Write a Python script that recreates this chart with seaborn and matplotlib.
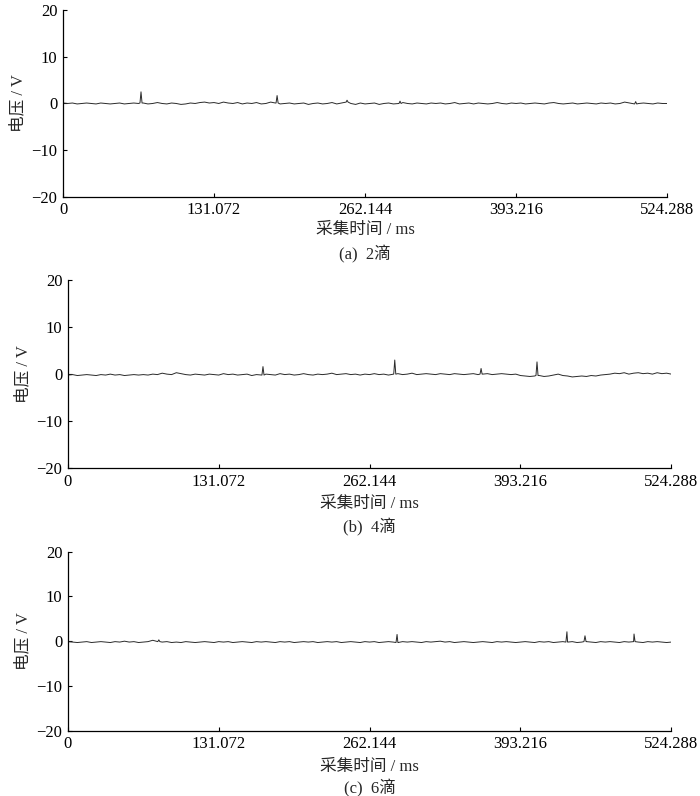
import matplotlib
matplotlib.use("Agg")
import matplotlib.pyplot as plt
import seaborn as sns
import numpy as np
import pandas as pd

# sample clock of the stored trace (ms)
dt = 4.096
n_samples = 129

xticks = [0, 131.072, 262.144, 393.216, 524.288]
xtick_labels = ["0", "131.072", "262.144", "393.216", "524.288"]
yticks = [-20, -10, 0, 10, 20]
captions = ["(a)  2滴", "(b)  4滴", "(c)  6滴"]

# baseline voltage (V)
a_base = [
    0.1, 0.0, 0.1, -0.1, 0.0, 0.1, 0.0, -0.1, 0.1, 0.0, -0.1, 0.0, 0.1, -0.1, 0.0, 0.1,
    0.0, 0.1, -0.1, 0.0, 0.2, 0.0, -0.1, 0.1, 0.0, -0.2, -0.1, 0.1, 0.0, 0.2, 0.3, 0.1,
    0.2, 0.0, 0.3, 0.1, 0.0, 0.2, -0.1, 0.1, 0.0, 0.2, -0.1, 0.0, 0.3, 0.1, -0.1, 0.0,
    0.1, -0.1, 0.0, 0.1, -0.2, 0.0, 0.1, -0.1, 0.0, 0.2, -0.1, 0.1, 0.3, 0.0, -0.2, 0.1,
    -0.1, 0.0, 0.1, -0.2, 0.0, 0.1, -0.1, 0.0, 0.2, 0.0, -0.1, 0.1, 0.0, -0.1, 0.1, 0.0,
    0.1, -0.1, 0.0, 0.2, -0.1, 0.0, 0.1, -0.1, 0.1, 0.0, -0.1, 0.0, 0.2, 0.0, -0.1, 0.1,
    0.0, 0.1, -0.1, 0.0, 0.1, 0.0, -0.1, 0.1, 0.2, 0.0, -0.1, 0.0, 0.1, -0.1, 0.0, 0.1,
    0.0, -0.1, 0.1, 0.0, 0.1, -0.1, 0.0, 0.3, 0.1, -0.1, 0.0, 0.1, 0.0, -0.1, 0.1, 0.0,
    0.0,
]
b_base = [
    -0.2, -0.1, -0.3, -0.2, -0.1, -0.2, -0.3, -0.1, -0.2, 0.0, -0.2, -0.1, -0.3, -0.2, -0.1, -0.2,
    -0.1, -0.2, 0.0, -0.1, 0.2, 0.0, -0.1, 0.3, 0.1, -0.1, -0.2, 0.0, -0.1, -0.2, 0.0, -0.1,
    -0.2, 0.1, -0.1, 0.0, -0.2, -0.1, 0.0, -0.3, -0.1, -0.2, 0.0, -0.1, -0.2, 0.1, -0.1, 0.0,
    -0.2, -0.1, 0.1, -0.1, -0.2, 0.0, -0.1, 0.0, 0.2, -0.1, 0.0, 0.1, -0.1, 0.0, -0.2, 0.0,
    -0.1, 0.1, -0.1, 0.0, -0.2, 0.0, 0.1, -0.1, 0.0, 0.2, -0.1, 0.0, 0.1, 0.0, -0.1, 0.1,
    0.0, -0.1, 0.1, 0.0, -0.1, 0.0, 0.1, -0.1, 0.0, 0.1, -0.1, 0.0, 0.1, 0.0, -0.1, 0.0,
    -0.3, -0.4, -0.5, -0.4, -0.3, -0.5, -0.4, -0.2, 0.0, -0.3, -0.4, -0.6, -0.5, -0.4, -0.5, -0.3,
    -0.4, -0.2, -0.1, 0.0, 0.2, 0.1, 0.3, 0.0, 0.2, 0.3, 0.1, 0.2, 0.0, 0.3, 0.1, 0.2,
    0.0,
]
c_base = [
    -0.1, -0.2, -0.3, -0.2, -0.1, -0.3, -0.2, -0.1, -0.2, -0.3, -0.1, -0.2, 0.0, -0.2, -0.1, -0.3,
    -0.2, -0.1, 0.2, -0.1, -0.2, -0.1, -0.3, -0.2, -0.3, -0.1, -0.2, -0.3, -0.2, -0.1, -0.2, -0.3,
    -0.1, -0.2, -0.1, -0.3, -0.2, -0.1, -0.2, -0.3, -0.1, -0.2, -0.1, -0.2, -0.3, -0.1, -0.2, -0.1,
    -0.3, -0.2, -0.1, -0.2, -0.1, -0.3, -0.2, -0.1, -0.2, -0.1, -0.3, -0.2, -0.1, -0.2, -0.3, -0.1,
    -0.2, -0.1, -0.3, -0.2, -0.1, -0.2, -0.3, -0.1, -0.2, -0.1, -0.2, -0.3, -0.1, -0.2, -0.1, 0.0,
    -0.2, -0.1, -0.3, -0.2, -0.1, -0.2, -0.3, -0.2, -0.1, -0.2, -0.3, -0.1, -0.2, -0.1, -0.2, -0.3,
    -0.2, -0.1, -0.2, -0.3, -0.1, -0.2, -0.1, -0.3, -0.2, -0.1, -0.2, -0.1, -0.3, -0.2, -0.1, -0.2,
    -0.3, -0.1, -0.2, -0.1, -0.2, -0.3, -0.1, -0.2, -0.1, -0.2, -0.3, -0.1, -0.2, -0.1, -0.2, -0.3,
    -0.2,
]

# discharge spikes: time (ms) and peak voltage (V)
a_spike_t = [67.7, 185.8, 246.5, 292.5, 497.0]
a_spike_v = [2.5, 1.7, 0.7, 0.5, 0.4]
b_spike_t = [169.5, 284.0, 359.0, 407.6]
b_spike_v = [1.6, 3.0, 1.2, 2.6]
c_spike_t = [79.0, 286.0, 433.6, 449.3, 491.9]
c_spike_v = [0.3, 1.5, 2.1, 1.2, 1.6]

panels = [
    (a_base, a_spike_t, a_spike_v),
    (b_base, b_spike_t, b_spike_v),
    (c_base, c_spike_t, c_spike_v),
]

# axes boxes [left, bottom, width, height] in figure fraction
boxes = [
    [0.090, 0.753, 0.863, 0.234],
    [0.097, 0.412, 0.862, 0.236],
    [0.097, 0.082, 0.862, 0.225],
]
xlabel_y = [0.711, 0.367, 0.036]
caption_y = [0.680, 0.338, 0.010]


def build_trace(base, spike_t, spike_v):
    t = np.arange(n_samples) * dt
    df = pd.DataFrame({"t": t, "v": base})
    rows = []
    for st, sv in zip(spike_t, spike_v):
        idx = int(np.argmin(np.abs(t - st)))
        b = base[idx]
        rows += [(st - 0.9, b), (st, sv), (st + 0.9, b)]
    sp = pd.DataFrame(rows, columns=["t", "v"])
    df = pd.concat([df, sp]).sort_values("t").reset_index(drop=True)
    return df


sns.set_style("ticks")
plt.rcParams["font.family"] = ["Liberation Serif", "Noto Sans CJK SC"]
plt.rcParams["axes.unicode_minus"] = True

fig = plt.figure(figsize=(7.0, 7.96), dpi=100)

for i, (base, st, sv) in enumerate(panels):
    ax = fig.add_axes(boxes[i])
    df = build_trace(base, st, sv)
    sns.lineplot(data=df, x="t", y="v", ax=ax, color="#2a2a2a",
                 linewidth=0.7, estimator=None, sort=False)
    ax.set_xlim(0, 524.288)
    ax.set_ylim(-20, 20)
    ax.set_xticks(xticks)
    ax.set_xticklabels(xtick_labels)
    ax.set_yticks(yticks)
    ax.tick_params(direction="in", length=3, width=0.8, labelsize=12,
                   colors="black", pad=4)
    sns.despine(ax=ax)
    for s in ["left", "bottom"]:
        ax.spines[s].set_linewidth(0.9)
        ax.spines[s].set_color("black")
    ax.set_xlabel("")
    ax.set_ylabel("电压 / V", fontsize=12, labelpad=4)
    cx = boxes[i][0] + boxes[i][2] / 2
    fig.text(cx, xlabel_y[i], "采集时间 / ms", ha="center", va="center", fontsize=12)
    fig.text(cx, caption_y[i], captions[i], ha="center", va="center", fontsize=12)

fig.savefig("out.png", dpi=100)
